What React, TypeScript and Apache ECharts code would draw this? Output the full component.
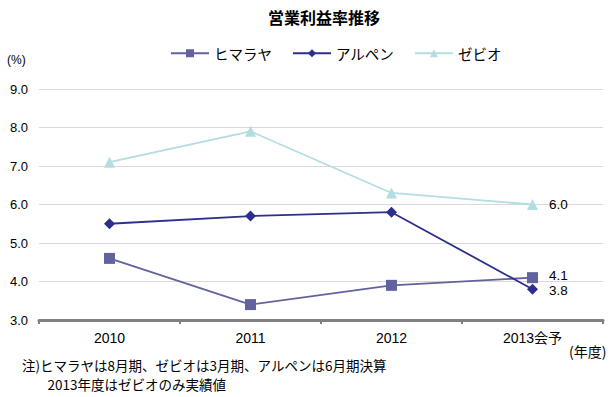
import React, { useEffect, useRef } from "react";
import * as echarts from "echarts";

const categories = ["2010", "2011", "2012", "2013会予"];
const himaraya = [4.6, 3.4, 3.9, 4.1];
const alpen = [5.5, 5.7, 5.8, 3.8];
const xebio = [7.1, 7.9, 6.3, 6.0];
const seriesNames = ["ヒマラヤ", "アルペン", "ゼビオ"];
const title = "営業利益率推移";
const note1 = "注)ヒマラヤは8月期、ゼビオは3月期、アルペンは6月期決算";
const note2 = "2013年度はゼビオのみ実績値";

const FONT = "'Liberation Sans', 'Noto Sans CJK JP', sans-serif";
const JFONT = "'Noto Sans CJK JP', sans-serif";

function withLastLabel(values: number[], offset: [number, number]) {
  return values.map((v, i) =>
    i === values.length - 1
      ? {
          value: v,
          label: {
            show: true,
            position: "right",
            distance: 11,
            offset,
            formatter: (p: any) => Number(p.value).toFixed(1),
            color: "#000",
            fontSize: 13.5,
            fontFamily: FONT,
          },
        }
      : v
  );
}

export default function App() {
  const ref = useRef<HTMLDivElement>(null);
  useEffect(() => {
    if (!ref.current) return;
    const chart = echarts.init(ref.current, undefined, { renderer: "svg" });
    chart.setOption({
      animation: false,
      backgroundColor: "#fff",
      title: {
        text: title,
        left: 319,
        textAlign: "center",
        top: 4,
        textStyle: { fontSize: 16, fontWeight: "bold", color: "#000", fontFamily: JFONT },
      },
      legend: {
        top: 41,
        left: 165,
        itemWidth: 38,
        itemHeight: 10,
        itemGap: 20,
        textStyle: { fontSize: 14.5, color: "#000", fontFamily: JFONT },
        data: seriesNames,
      },
      grid: { left: 39, right: 10, top: 89, bottom: 77 },
      xAxis: {
        type: "category",
        data: categories,
        axisLine: { lineStyle: { color: "#808080", width: 3 } },
        axisTick: { show: true, length: 4, lineStyle: { color: "#808080", width: 2 } },
        axisLabel: { color: "#000", fontSize: 14, margin: 11, fontFamily: FONT },
      },
      yAxis: {
        type: "value",
        min: 3,
        max: 9,
        interval: 1,
        axisLine: { show: false },
        axisTick: { show: false },
        splitLine: { lineStyle: { color: "#d9d9d9", width: 1 } },
        axisLabel: {
          color: "#000",
          fontSize: 13,
          margin: 11,
          fontFamily: FONT,
          formatter: (v: number) => v.toFixed(1),
        },
      },
      graphic: [
        { type: "text", left: 7, top: 54, style: { text: "(%)", fontSize: 12, fill: "#000", fontFamily: FONT } },
        { type: "text", left: 569, top: 344, style: { text: "(年度)", fontSize: 14, fill: "#000", fontFamily: JFONT } },
        {
          type: "text",
          left: 22,
          top: 355,
          style: {
            text: note1 + "\n\u3000    " + note2,
            fontSize: 13.5,
            lineHeight: 19.6,
            fill: "#000",
            fontFamily: JFONT,
          },
        },
      ],
      series: [
        {
          name: seriesNames[0],
          type: "line",
          data: withLastLabel(himaraya, [0, -2]),
          symbol: "rect",
          symbolSize: 11,
          color: "#62629e",
          lineStyle: { width: 1.8, color: "#62629e" },
          itemStyle: { color: "#62629e" },
        },
        {
          name: seriesNames[1],
          type: "line",
          data: withLastLabel(alpen, [0, 1]),
          symbol: "diamond",
          symbolSize: 11,
          color: "#2e2e8c",
          lineStyle: { width: 1.8, color: "#2e2e8c" },
          itemStyle: { color: "#2e2e8c" },
        },
        {
          name: seriesNames[2],
          type: "line",
          data: withLastLabel(xebio, [0, 0]),
          symbol: "triangle",
          symbolSize: 11,
          color: "#b3dde1",
          lineStyle: { width: 1.8, color: "#b3dde1" },
          itemStyle: { color: "#b3dde1" },
        },
      ],
    });
    return () => chart.dispose();
  }, []);
  return <div ref={ref} style={{ width: 613, height: 397, position: "absolute", left: 0, top: 0 }} />;
}
